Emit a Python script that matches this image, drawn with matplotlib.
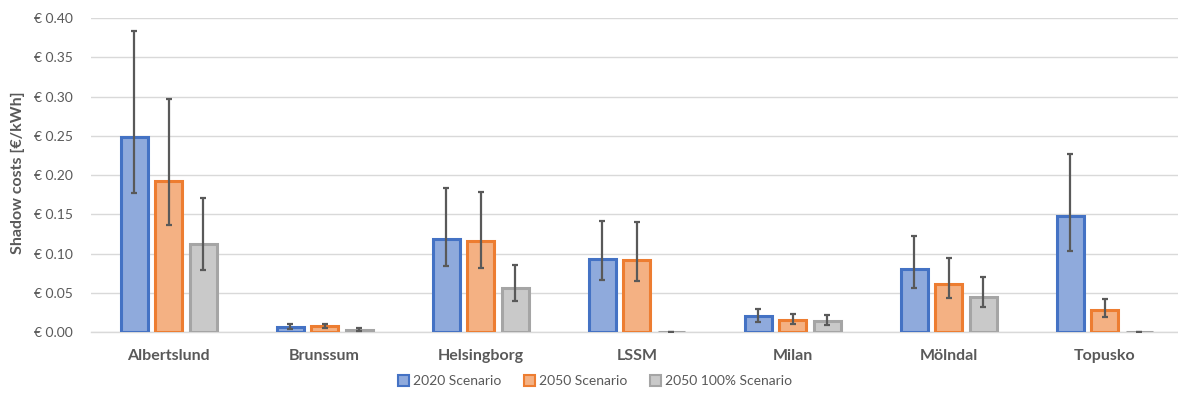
import matplotlib
matplotlib.use("Agg")
import matplotlib.pyplot as plt
from matplotlib.patches import Patch
from matplotlib.ticker import FuncFormatter
import numpy as np

plt.rcParams['font.family'] = ['Lato', 'DejaVu Sans']

# Districts and shadow costs [EUR/kWh] per scenario
cities = ["Albertslund", "Brunssum", "Helsingborg", "LSSM", "Milan", "Mölndal", "Topusko"]
series = ["2020 Scenario", "2050 Scenario", "2050 100% Scenario"]

cost_2020 = [0.249, 0.007, 0.119, 0.093, 0.021, 0.080, 0.148]
low_2020 = [0.177, 0.004, 0.085, 0.066, 0.013, 0.056, 0.104]
high_2020 = [0.383, 0.010, 0.184, 0.142, 0.030, 0.122, 0.227]

cost_2050 = [0.193, 0.008, 0.116, 0.092, 0.016, 0.062, 0.028]
low_2050 = [0.137, 0.005, 0.082, 0.065, 0.010, 0.044, 0.019]
high_2050 = [0.297, 0.011, 0.179, 0.141, 0.023, 0.095, 0.043]

cost_100 = [0.112, 0.003, 0.056, 0.0006, 0.014, 0.045, 0.0006]
low_100 = [0.079, 0.002, 0.040, 0.0006, 0.009, 0.032, 0.0006]
high_100 = [0.171, 0.005, 0.086, 0.0006, 0.022, 0.070, 0.0006]

edge_colors = ["#4472C4", "#ED7D31", "#A5A5A5"]
fill_colors = ["#8FAADC", "#F4B183", "#C9C9C9"]

fig = plt.figure(figsize=(11.78, 3.94), dpi=100)
ax = fig.add_axes([90.6 / 1178, 1 - 332.3 / 394, 1 - 90.6 / 1178, (332.3 - 18) / 394])

x = np.arange(len(cities))
step = 0.221
width = 0.173
data = [(cost_2020, low_2020, high_2020), (cost_2050, low_2050, high_2050), (cost_100, low_100, high_100)]
for i, (vals, lo, hi) in enumerate(data):
    vals = np.array(vals)
    lo = np.array(lo)
    hi = np.array(hi)
    pos = x + (i - 1) * step
    ax.bar(pos, vals, width=width, facecolor=fill_colors[i], edgecolor=edge_colors[i],
           linewidth=2.2, zorder=3)
    ax.errorbar(pos, vals, yerr=[vals - lo, hi - vals], fmt="none", ecolor="#595959",
                elinewidth=1.6, capsize=2.5, capthick=1.6, zorder=4)

ax.set_ylim(0, 0.40)
ax.set_xlim(-0.5, 6.468)
ax.set_yticks(np.arange(0, 0.401, 0.05))
ax.yaxis.set_major_formatter(FuncFormatter(lambda v, p: f"€ {v:.2f}"))
ax.set_xticks(x)
ax.set_xticklabels(cities, fontweight="bold", fontsize=11.5)
ax.tick_params(axis="both", length=0, colors="#595959")
ax.tick_params(axis="y", labelsize=10, pad=13)
ax.tick_params(axis="x", pad=12)
ax.grid(axis="y", color="#D9D9D9", linewidth=1, zorder=0)
for s in ["top", "right", "left"]:
    ax.spines[s].set_visible(False)
ax.spines["bottom"].set_color("#D9D9D9")
ax.spines["bottom"].set_linewidth(1)

fig.text(18 / 1178, 1 - 173 / 394, "Shadow costs [€/kWh]", rotation=90, ha="center", va="center",
         fontsize=11.5, fontweight="bold", color="#595959")

handles = [Patch(facecolor=fill_colors[i], edgecolor=edge_colors[i], linewidth=1.5, label=series[i])
           for i in range(3)]
leg = fig.legend(handles=handles, loc="center", bbox_to_anchor=(595 / 1178, 13 / 394), ncol=3,
                 frameon=False, fontsize=10, handlelength=0.8, handleheight=0.8,
                 handletextpad=0.3, columnspacing=1.6)
for t in leg.get_texts():
    t.set_color("#595959")

fig.savefig("out.png", dpi=100)
